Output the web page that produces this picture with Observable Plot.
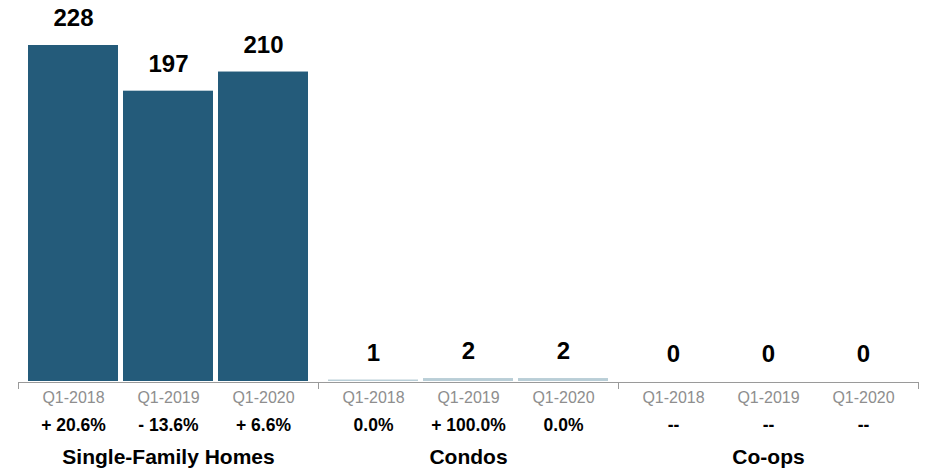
<!DOCTYPE html>
<html>
<head>
<meta charset="utf-8">
<script src="https://cdn.jsdelivr.net/npm/d3@7"></script>
<script src="https://cdn.jsdelivr.net/npm/@observablehq/plot@0.6"></script>
<style>
  html, body { margin: 0; padding: 0; background: #fff; }
  #chart svg { display: block; font-family: "Liberation Sans", Arial, Helvetica, sans-serif; }
</style>
</head>
<body>
<div id="chart"></div>
<script>
const groups = ["Single-Family Homes", "Condos", "Co-ops"];
const quarters = ["Q1-2018", "Q1-2019", "Q1-2020"];
const singleFamilyValues = [228, 197, 210];
const condoValues = [1, 2, 2];
const coopValues = [0, 0, 0];
const singleFamilyChanges = ["+ 20.6%", "- 13.6%", "+ 6.6%"];
const condoChanges = ["0.0%", "+ 100.0%", "0.0%"];
const coopChanges = ["--", "--", "--"];
const groupColors = ["#245b7a", "#b9ced7", "#b9ced7"];

const valuesByGroup = [singleFamilyValues, condoValues, coopValues];
const changesByGroup = [singleFamilyChanges, condoChanges, coopChanges];
const data = groups.flatMap((g, gi) => quarters.map((q, qi) => ({
  group: g, quarter: q, value: valuesByGroup[gi][qi], change: changesByGroup[gi][qi]
})));

const font = "Liberation Sans, Arial, Helvetica, sans-serif";

const chart = Plot.plot({
  width: 928,
  height: 472,
  marginLeft: 17,
  marginRight: 9,
  marginTop: 45,
  marginBottom: 91,
  style: { fontFamily: font, background: "#fff" },
  fx: { domain: groups, padding: 0, axis: null },
  x: { domain: quarters, paddingInner: 5 / 95, paddingOuter: 0.105, axis: null },
  y: { axis: null, domain: [0, d3.max(singleFamilyValues)] },
  color: { domain: groups, range: groupColors },
  marks: [
    Plot.barY(data, { fx: "group", x: "quarter", y: "value", fill: "group" }),
    Plot.ruleY([0], { stroke: "#9a9a9a", strokeWidth: 1, dy: 1 }),
    Plot.text(data, {
      fx: "group", x: "quarter", y: "value", text: d => String(d.value),
      dy: -27, fontSize: 24, fontWeight: "bold", fill: "#000"
    }),
    Plot.text(data, {
      fx: "group", x: "quarter", y: () => 0, text: "quarter",
      dy: 16, fontSize: 16, fill: "#8e8e8e"
    }),
    Plot.text(data, {
      fx: "group", x: "quarter", y: () => 0, text: "change",
      dy: 44, fontSize: 17.5, fontWeight: "bold", fill: "#000"
    }),
    Plot.text(groups, {
      fx: d => d, y: () => 0, text: d => d, frameAnchor: "middle",
      dy: 76, fontSize: 21, fontWeight: "bold", fill: "#000"
    })
  ]
});

// boundary ticks at the edges of each facet, positioned by the fx scale
const fx = chart.scale("fx");
const y = chart.scale("y");
const y0 = y.apply(0) + 1;
const edges = [];
groups.forEach((g, i) => {
  const left = fx.apply(g);
  edges.push(left);
  if (i === groups.length - 1) edges.push(left + fx.bandwidth);
});
const svg = d3.select(chart);
svg.append("g")
  .attr("stroke", "#9a9a9a")
  .selectAll("line")
  .data(edges)
  .join("line")
  .attr("x1", d => Math.round(d) + 0.5)
  .attr("x2", d => Math.round(d) + 0.5)
  .attr("y1", y0)
  .attr("y2", y0 + 7);

document.getElementById("chart").appendChild(chart);
</script>
</body>
</html>
